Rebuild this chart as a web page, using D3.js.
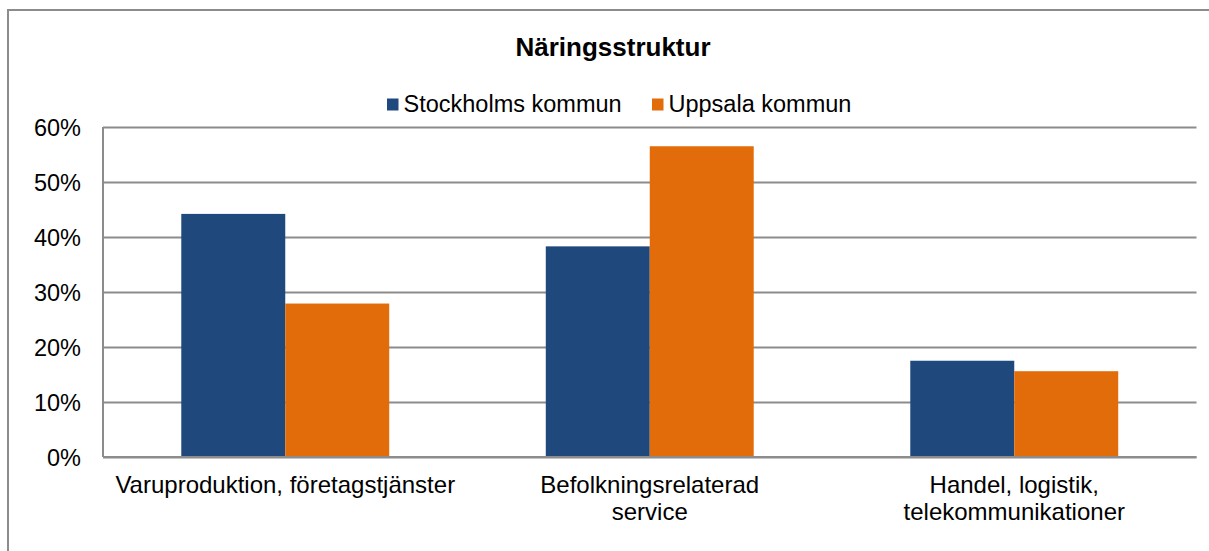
<!DOCTYPE html>
<html><head><meta charset="utf-8">
<script src="https://cdn.jsdelivr.net/npm/d3@7"></script>
<style>
html,body{margin:0;padding:0;background:#fff;}
svg{display:block;font-family:"Liberation Sans",Arial,sans-serif;}
</style></head>
<body><svg id="c" width="1209" height="551"></svg>
<script>
const title = "Näringsstruktur";
const categories = ["Varuproduktion, företagstjänster", "Befolkningsrelaterad\nservice", "Handel, logistik,\ntelekommunikationer"];
const seriesNames = ["Stockholms kommun", "Uppsala kommun"];
const stockholm = [0.442, 0.383, 0.175];
const uppsala = [0.279, 0.565, 0.156];
const yTicks = [0, 0.1, 0.2, 0.3, 0.4, 0.5, 0.6];
const colors = ["#1f497d", "#e36c0a"];

(function() {
const svg = d3.select("#c");
const pLeft = 103, pRight = 1196.5, pTop = 127, pBottom = 457;

svg.append("rect").attr("x", 8).attr("y", 10).attr("width", 1215).attr("height", 560)
  .attr("fill", "none").attr("stroke", "#8c8c8c").attr("stroke-width", 2);

const x0 = d3.scaleBand().domain(categories).range([pLeft, pRight]).padding(0);
const groupW = x0.bandwidth() * 0.5705;
const x1 = d3.scaleBand().domain(seriesNames).range([0, groupW]).padding(0);
const y = d3.scaleLinear().domain([0, 0.6]).range([pBottom, pTop]);

// gridlines
const yAxis = d3.axisLeft(y).tickValues(yTicks).tickFormat(d3.format(".0%")).tickSize(-(pRight - pLeft)).tickPadding(22);
const gy = svg.append("g").attr("transform", `translate(${pLeft},0)`).call(yAxis);
gy.select(".domain").remove();
gy.selectAll(".tick line").attr("stroke", "#8c8c8c").attr("stroke-width", 2);
gy.selectAll(".tick text").attr("font-size", "23.5px").attr("fill", "#000").attr("dy", "0.36em")
  .attr("font-family", "'Liberation Sans',Arial,sans-serif");

// bars
const data = categories.map((c, i) => ({c, vals: [stockholm[i], uppsala[i]]}));
const groups = svg.append("g").selectAll("g").data(data).join("g")
  .attr("transform", d => `translate(${x0(d.c) + (x0.bandwidth() - groupW) / 2},0)`);
groups.selectAll("rect").data(d => d.vals.map((v, j) => ({v, s: seriesNames[j], j})))
  .join("rect")
  .attr("x", d => x1(d.s)).attr("width", x1.bandwidth())
  .attr("y", d => y(d.v)).attr("height", d => y(0) - y(d.v))
  .attr("fill", d => colors[d.j]);

// axis lines
svg.append("line").attr("x1", pLeft).attr("x2", pLeft).attr("y1", pTop).attr("y2", pBottom)
  .attr("stroke", "#8c8c8c").attr("stroke-width", 2);
svg.append("line").attr("x1", pLeft).attr("x2", pRight).attr("y1", pBottom).attr("y2", pBottom)
  .attr("stroke", "#8c8c8c").attr("stroke-width", 2);

// category labels
const xAxis = d3.axisBottom(x0).tickSize(0).tickFormat(() => "");
const gx = svg.append("g").attr("transform", `translate(0,${pBottom})`).call(xAxis);
gx.select(".domain").remove();
gx.selectAll(".tick").each(function(d) {
  const t = d3.select(this).append("text").attr("text-anchor", "middle").attr("fill", "#000")
    .attr("font-size", "24px").attr("font-family", "'Liberation Sans',Arial,sans-serif");
  d.split("\n").forEach((line, i) => {
    t.append("tspan").attr("x", 0).attr("y", 36 + i * 27).text(line);
  });
});

// title
svg.append("text").attr("x", 613).attr("y", 56).attr("text-anchor", "middle")
  .attr("font-size", "26px").attr("font-weight", "bold").text(title);

// legend
const legendX = [387, 652];
const lg = svg.append("g").selectAll("g").data(seriesNames).join("g")
  .attr("transform", (d, i) => `translate(${legendX[i]},0)`);
lg.append("rect").attr("x", 0).attr("y", 98.5).attr("width", 11.5).attr("height", 12).attr("fill", (d, i) => colors[i]);
lg.append("text").attr("x", 16.5).attr("y", 112).attr("font-size", "23.5px").attr("fill", "#000").text(d => d);
})();
</script></body></html>
